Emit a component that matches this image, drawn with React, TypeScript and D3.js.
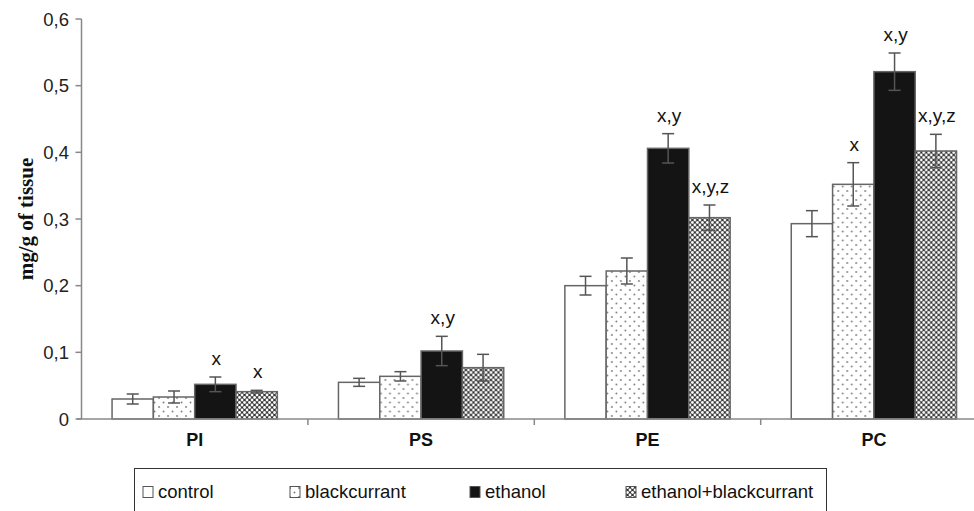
import React from 'react';
import * as d3 from 'd3';

const categories = ['PI', 'PS', 'PE', 'PC'];
const groups = ['control', 'blackcurrant', 'ethanol', 'ethanol+blackcurrant'];

// mean values per group, in category order
const control = [0.03, 0.055, 0.2, 0.293];
const blackcurrant = [0.033, 0.064, 0.222, 0.352];
const ethanol = [0.052, 0.102, 0.406, 0.521];
const ethanolBlackcurrant = [0.041, 0.077, 0.302, 0.402];

// error bar half-widths
const controlErr = [0.0075, 0.006, 0.014, 0.0195];
const blackcurrantErr = [0.009, 0.007, 0.0195, 0.0325];
const ethanolErr = [0.011, 0.022, 0.022, 0.028];
const ethanolBlackcurrantErr = [0.002, 0.02, 0.019, 0.025];

// significance letters
const controlSig = ['', '', '', ''];
const blackcurrantSig = ['', '', '', 'x'];
const ethanolSig = ['x', 'x,y', 'x,y', 'x,y'];
const ethanolBlackcurrantSig = ['x', '', 'x,y,z', 'x,y,z'];

const yTicks = [0, 0.1, 0.2, 0.3, 0.4, 0.5, 0.6];

const series = [
  { name: groups[0], values: control, err: controlErr, sig: controlSig, fill: '#fff' },
  { name: groups[1], values: blackcurrant, err: blackcurrantErr, sig: blackcurrantSig, fill: 'url(#dots)' },
  { name: groups[2], values: ethanol, err: ethanolErr, sig: ethanolSig, fill: '#141414' },
  { name: groups[3], values: ethanolBlackcurrant, err: ethanolBlackcurrantErr, sig: ethanolBlackcurrantSig, fill: 'url(#check)' },
];

const App = () => {
  const width = 974;
  const height = 511;
  const left = 81.5;
  const baseY = 419;

  const y = d3.scaleLinear().domain([0, 0.6]).range([baseY, 19]);
  const x0 = d3
    .scaleBand()
    .domain(categories)
    .range([left, left + 4 * 226.4])
    .paddingInner(0.27)
    .paddingOuter(0.135);
  const x1 = d3.scaleBand().domain(groups).range([0, x0.bandwidth()]);
  const step = x0.step();
  const font = 'Arial, "Liberation Sans", sans-serif';

  // legend swatch positions (left edge of each swatch)
  const legendX = [143, 290, 470, 626];

  return (
    <div style={{ position: 'absolute', left: 0, top: 0 }}>
      <svg width={width} height={height} style={{ display: 'block', background: '#fff' }}>
        <defs>
          <pattern id="dots" width="9" height="9" patternUnits="userSpaceOnUse">
            <rect width="9" height="9" fill="#fff" />
            <circle cx="2" cy="2" r="0.9" fill="#777" />
            <circle cx="6.5" cy="6.5" r="0.9" fill="#777" />
          </pattern>
          <pattern id="check" width="5" height="5" patternUnits="userSpaceOnUse">
            <rect width="5" height="5" fill="#333" />
            <circle cx="0" cy="0" r="1.4" fill="#fff" />
            <circle cx="5" cy="0" r="1.4" fill="#fff" />
            <circle cx="0" cy="5" r="1.4" fill="#fff" />
            <circle cx="5" cy="5" r="1.4" fill="#fff" />
            <circle cx="2.5" cy="2.5" r="1.4" fill="#fff" />
          </pattern>
        </defs>

        {/* y axis */}
        <line x1={left} x2={left} y1={y(0.6)} y2={baseY} stroke="#888" strokeWidth={1.5} />
        {yTicks.map((t) => (
          <g key={t}>
            <line x1={left - 6} x2={left} y1={y(t)} y2={y(t)} stroke="#888" strokeWidth={1.5} />
            <text
              x={69}
              y={y(t)}
              textAnchor="end"
              dominantBaseline="central"
              fontFamily={font}
              fontSize={18.5}
              fill="#222"
            >
              {t === 0 ? '0' : d3.format('.1f')(t).replace('.', ',')}
            </text>
          </g>
        ))}
        <text
          transform={`translate(26, ${(y(0.6) + baseY) / 2}) rotate(-90)`}
          textAnchor="middle"
          dominantBaseline="central"
          fontFamily='"Liberation Serif", "Times New Roman", serif'
          fontWeight="bold"
          fontSize={21}
          fill="#111"
        >
          mg/g of tissue
        </text>

        {/* bars */}
        {categories.map((c, ci) => (
          <g key={c} transform={`translate(${x0(c)}, 0)`}>
            {series.map((s) => {
              const bx = x1(s.name) as number;
              const bw = x1.bandwidth();
              const cx = bx + bw / 2;
              const v = s.values[ci];
              const e = s.err[ci];
              return (
                <g key={s.name}>
                  <rect
                    x={bx}
                    y={y(v)}
                    width={bw}
                    height={baseY - y(v)}
                    fill={s.fill}
                    stroke="#666"
                    strokeWidth={1.5}
                  />
                  <line x1={cx} x2={cx} y1={y(v + e)} y2={y(v - e)} stroke="#555" strokeWidth={1.5} />
                  <line x1={cx - 6} x2={cx + 6} y1={y(v + e)} y2={y(v + e)} stroke="#555" strokeWidth={1.5} />
                  <line x1={cx - 6} x2={cx + 6} y1={y(v - e)} y2={y(v - e)} stroke="#555" strokeWidth={1.5} />
                  {s.sig[ci] && (
                    <text
                      x={cx + 1}
                      y={y(v + e) - 12}
                      textAnchor="middle"
                      fontFamily={font}
                      fontSize={19}
                      fill="#111"
                    >
                      {s.sig[ci]}
                    </text>
                  )}
                </g>
              );
            })}
          </g>
        ))}

        {/* x axis */}
        <line x1={77} x2={width} y1={baseY} y2={baseY} stroke="#888" strokeWidth={1.5} />
        {categories.map((c, i) => (
          <g key={c}>
            {i > 0 && (
              <line
                x1={(x0(c) as number) - (step - x0.bandwidth()) / 2}
                x2={(x0(c) as number) - (step - x0.bandwidth()) / 2}
                y1={baseY}
                y2={baseY + 6}
                stroke="#888"
                strokeWidth={1.5}
              />
            )}
            <text
              x={(x0(c) as number) + x0.bandwidth() / 2}
              y={446}
              textAnchor="middle"
              fontFamily={font}
              fontWeight="bold"
              fontSize={18}
              fill="#111"
            >
              {c}
            </text>
          </g>
        ))}

        {/* legend */}
        <rect x={134.5} y={468.5} width={692} height={50} fill="none" stroke="#333" strokeWidth={1} />
        {series.map((s, i) => (
          <g key={s.name}>
            <rect x={legendX[i]} y={486.5} width={10} height={11} fill={s.fill} stroke="#555" strokeWidth={1} />
            <text x={legendX[i] + 15} y={498} fontFamily={font} fontSize={18.5} fill="#111">
              {s.name}
            </text>
          </g>
        ))}
      </svg>
    </div>
  );
};

export default App;
